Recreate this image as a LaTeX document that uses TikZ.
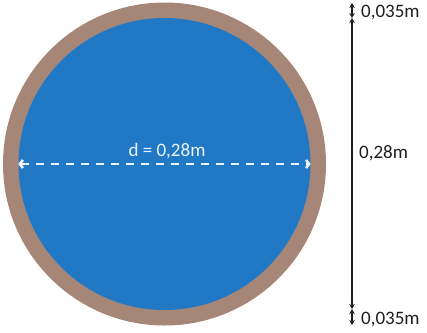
\documentclass[tikz,border=0pt]{standalone}
\usepackage{fontspec}
\setmainfont{Carlito}
\usetikzlibrary{arrows.meta,positioning}

\definecolor{poolblue}{RGB}{33,121,198}
\definecolor{rimbrown}{RGB}{166,134,118}
\definecolor{lblwhite}{RGB}{235,243,250}
\definecolor{dimgray}{RGB}{30,30,30}

\tikzset{
  dimtext/.style={font=\fontsize{19}{22}\selectfont, inner sep=0pt, text=dimgray},
  dimline/.style={dimgray, line width=1.6pt, <->},
}

\begin{document}
\begin{tikzpicture}[x=1pt,y=-1pt,>={Stealth[length=5pt,width=5.5pt]}]
    \useasboundingbox (0,0) rectangle (427,332);
    \node[circle,fill=rimbrown,inner sep=0pt,minimum size=323pt] (rim) at (164.5,164) {};
    \node[circle,fill=poolblue,inner sep=0pt,minimum size=292pt] (pool) at (rim.center) {};

    \draw[lblwhite,line width=2.6pt,dash pattern=on 8pt off 7pt,
        <->,>={Straight Barb[length=3pt,width=8pt]}] (pool.west) -- (pool.east);
    \node[dimtext,text=lblwhite] (diam) at (167,151) {d = 0,28m};

    \coordinate (top) at (352,3);
    \coordinate (t1) at (352,18);
    \coordinate (b1) at (352,309);
    \coordinate (bot) at (352,325);
    \draw[dimline] (top) -- (t1);
    \draw[dimline] (t1) -- (b1);
    \draw[dimline] (b1) -- (bot);

    \node[dimtext,anchor=west] (rimtop) at (361,13) {0,035m};
    \node[dimtext,anchor=west] (dia) at (359,153) {0,28m};
    \node[dimtext,anchor=west] (rimbot) at (361,320) {0,035m};
\end{tikzpicture}
\end{document}
